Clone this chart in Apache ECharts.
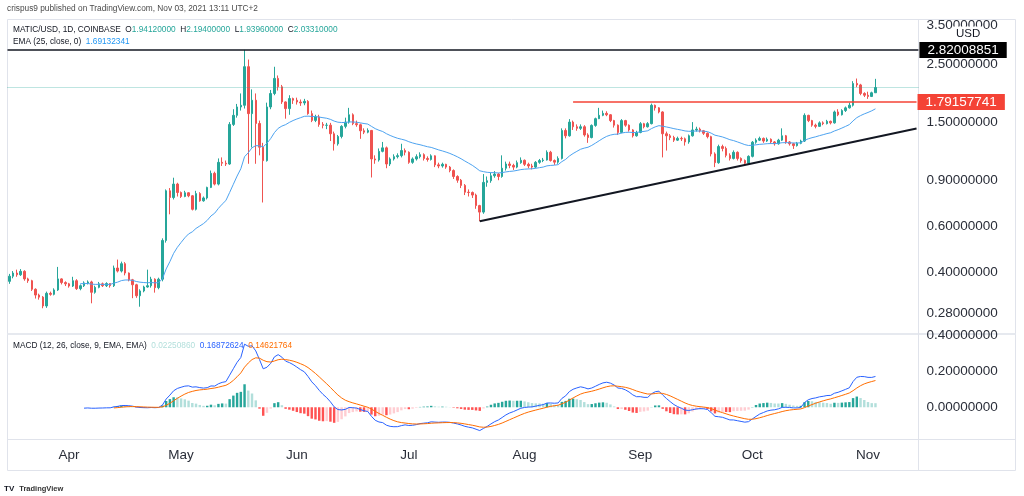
<!DOCTYPE html>
<html><head><meta charset="utf-8">
<script src="https://cdn.jsdelivr.net/npm/echarts@6/dist/echarts.min.js"></script>
<style>html,body{margin:0;padding:0;background:#fff}#c{width:1024px;height:496px}</style>
</head><body><div id="c"></div>
<script>
// ---------------- DATA ----------------
// daily bars from 2021-03-16 to 2021-11-03 (MATIC/USD, Coinbase)
const firstDay = '2021-03-16';
const slotCount = 244;            // daily slots on the time axis (incl. empty space on the right)
const warmupCloses = [0.36, 0.40, 0.39, 0.375, 0.37]; // bars just left of the visible window
const closes = [
 0.387,0.398,0.392,0.404,0.378,0.372,0.345,0.328,0.322,0.298,
 0.333,0.330,0.343,0.378,0.366,0.362,0.355,0.372,0.347,0.356,
 0.365,0.368,0.336,0.351,0.362,0.356,0.363,0.356,0.416,0.405,
 0.432,0.398,0.375,0.359,0.326,0.340,0.352,0.356,0.377,0.350,
 0.377,0.530,0.820,0.773,0.870,0.808,0.780,0.806,0.785,0.697,
 0.800,0.751,0.770,0.845,0.956,0.870,1.053,1.045,1.038,1.470,
 1.592,1.714,1.739,2.442,1.616,1.818,1.482,1.203,1.069,1.714,
 1.929,2.203,2.046,1.791,1.689,1.845,1.818,1.790,1.775,1.800,
 1.616,1.523,1.570,1.470,1.458,1.460,1.354,1.239,1.322,1.445,
 1.500,1.600,1.480,1.466,1.390,1.373,1.394,1.085,1.075,1.160,
 1.196,1.038,1.085,1.107,1.117,1.168,1.151,1.053,1.085,1.107,
 1.127,1.090,1.080,1.115,1.030,1.020,1.035,1.010,0.980,0.930,
 0.900,0.860,0.810,0.808,0.790,0.720,0.680,0.883,0.896,0.936,
 0.950,0.930,1.000,1.038,1.025,1.010,1.050,1.072,1.035,1.020,
 1.010,1.053,1.070,1.075,1.151,1.070,1.055,1.090,1.394,1.330,
 1.500,1.440,1.420,1.440,1.340,1.310,1.457,1.546,1.592,1.620,
 1.600,1.520,1.460,1.370,1.520,1.460,1.400,1.330,1.370,1.479,
 1.440,1.480,1.739,1.700,1.640,1.354,1.330,1.310,1.280,1.300,
 1.295,1.260,1.330,1.400,1.410,1.390,1.360,1.320,1.134,1.050,
 1.210,1.190,1.120,1.090,1.150,1.090,1.070,1.045,1.110,1.257,
 1.280,1.300,1.270,1.290,1.260,1.240,1.280,1.330,1.260,1.240,
 1.220,1.245,1.270,1.592,1.520,1.460,1.445,1.490,1.480,1.510,
 1.490,1.640,1.600,1.660,1.700,1.740,2.107,2.080,1.930,1.900,
 1.880,1.9412,2.0331];
const highs = [
 0.395,0.405,0.410,0.412,0.408,0.382,0.375,0.348,0.332,0.325,
 0.338,0.338,0.348,0.420,0.380,0.370,0.365,0.385,0.377,0.360,
 0.370,0.373,0.372,0.356,0.368,0.366,0.367,0.364,0.425,0.448,
 0.440,0.438,0.400,0.378,0.362,0.345,0.356,0.410,0.385,0.380,
 0.382,0.540,0.830,0.840,0.920,0.880,0.815,0.820,0.810,0.790,
 0.820,0.810,0.780,0.850,0.980,0.970,1.090,1.100,1.070,1.500,
 1.680,1.760,1.930,2.830,2.600,2.000,1.930,1.520,1.250,1.780,
 1.990,2.440,2.260,2.080,1.800,1.900,1.860,1.860,1.830,1.840,
 1.820,1.660,1.600,1.600,1.500,1.490,1.490,1.380,1.340,1.460,
 1.560,1.700,1.620,1.520,1.480,1.420,1.420,1.400,1.120,1.190,
 1.260,1.210,1.100,1.130,1.140,1.240,1.190,1.160,1.100,1.130,
 1.150,1.140,1.110,1.130,1.120,1.050,1.050,1.040,1.020,0.990,
 0.940,0.910,0.870,0.830,0.815,0.800,0.725,0.950,0.930,0.960,
 0.975,0.960,1.120,1.060,1.060,1.040,1.070,1.100,1.080,1.050,
 1.040,1.065,1.085,1.095,1.170,1.165,1.080,1.110,1.420,1.420,
 1.540,1.520,1.470,1.470,1.460,1.360,1.470,1.560,1.700,1.660,
 1.650,1.610,1.530,1.470,1.540,1.530,1.470,1.410,1.390,1.500,
 1.490,1.500,1.765,1.750,1.710,1.650,1.380,1.350,1.330,1.320,
 1.320,1.310,1.345,1.500,1.440,1.430,1.400,1.370,1.330,1.150,
 1.230,1.230,1.210,1.140,1.170,1.160,1.100,1.080,1.120,1.270,
 1.300,1.320,1.310,1.310,1.300,1.270,1.295,1.420,1.340,1.270,
 1.250,1.260,1.285,1.620,1.600,1.530,1.480,1.510,1.510,1.530,
 1.520,1.660,1.680,1.680,1.720,1.780,2.150,2.200,2.100,1.950,
 1.960,1.960,2.194];
const lows = [
 0.362,0.380,0.385,0.388,0.372,0.365,0.340,0.318,0.315,0.292,
 0.293,0.326,0.327,0.340,0.360,0.355,0.350,0.352,0.343,0.342,
 0.352,0.360,0.305,0.332,0.348,0.352,0.352,0.350,0.352,0.400,
 0.400,0.390,0.370,0.319,0.320,0.296,0.336,0.350,0.350,0.335,
 0.345,0.370,0.520,0.667,0.760,0.780,0.770,0.775,0.775,0.690,
 0.690,0.745,0.745,0.760,0.840,0.860,0.860,1.020,1.020,1.030,
 1.450,1.560,1.660,1.690,1.040,1.200,1.040,1.120,0.740,1.060,
 1.680,1.900,1.980,1.760,1.546,1.600,1.760,1.750,1.730,1.740,
 1.600,1.500,1.500,1.440,1.420,1.410,1.270,1.168,1.220,1.300,
 1.420,1.480,1.460,1.440,1.295,1.350,1.360,0.922,1.040,1.060,
 1.150,1.000,1.020,1.070,1.090,1.100,1.120,1.040,1.040,1.070,
 1.090,1.070,1.060,1.070,1.010,1.000,1.005,0.995,0.965,0.910,
 0.880,0.840,0.790,0.780,0.770,0.700,0.628,0.670,0.850,0.880,
 0.920,0.900,0.920,0.980,1.000,0.985,1.000,1.040,1.020,1.000,
 0.990,1.000,1.040,1.055,1.070,1.060,1.030,1.040,1.080,1.300,
 1.320,1.400,1.390,1.400,1.320,1.250,1.300,1.440,1.540,1.580,
 1.580,1.500,1.430,1.340,1.360,1.440,1.380,1.310,1.320,1.360,
 1.420,1.430,1.470,1.660,1.620,1.100,1.168,1.280,1.260,1.270,
 1.270,1.220,1.240,1.320,1.380,1.370,1.340,1.300,1.110,1.010,
 1.040,1.160,1.100,1.070,1.080,1.070,1.050,1.020,1.030,1.100,
 1.240,1.270,1.250,1.260,1.240,1.220,1.230,1.270,1.240,1.220,
 1.185,1.210,1.235,1.260,1.500,1.440,1.420,1.440,1.460,1.470,
 1.470,1.480,1.580,1.590,1.640,1.690,1.720,2.040,1.900,1.870,
 1.840,1.870,1.9396];

const priceTicks = [0.28, 0.4, 0.6, 0.9, 1.5, 2.5, 3.5];
const priceAxisRange = [0.2339, 3.697];
const macdTicks = [0, 0.2, 0.4];
const macdAxisRange = [-0.179, 0.404];
const monthNames = ['Jan','Feb','Mar','Apr','May','Jun','Jul','Aug','Sep','Oct','Nov','Dec'];

const resistanceLevel = 2.82008851;
const breakoutLevel = 1.79157741;
const breakoutStartIdx = 151;
const trendStart = { idx: 126, price: 0.628 };
const trendEnd = { idx: 243, price: 1.418 };

const emaLen = 25;
const macdParams = [12, 26, 9];
const legendValues = { ema: '1.69132341', hist: '0.02250860', macd: '0.16872624', signal: '0.14621764' };

// ---------------- BUILD ----------------
const LN = Math.log;
const FONT = 'Liberation Sans';
const UP = '#26a69a', DOWN = '#ef5350';

const categories = [];
const t0 = Date.parse(firstDay + 'T00:00:00Z');
for (let i = 0; i < slotCount; i++) categories.push(new Date(t0 + i * 86400000).toISOString().slice(0, 10));

const W = warmupCloses.length;
const full = warmupCloses.concat(closes);
const opens = closes.map((c, i) => full[W + i - 1]);

function ema(src, len) {
  const out = new Array(src.length).fill(null);
  const s = src.findIndex(v => v != null);
  if (s < 0 || s + len > src.length) return out;
  let sum = 0;
  for (let k = s; k < s + len; k++) sum += src[k];
  let prev = sum / len; out[s + len - 1] = prev;
  const a = 2 / (len + 1);
  for (let k = s + len; k < src.length; k++) { prev = a * src[k] + (1 - a) * prev; out[k] = prev; }
  return out;
}

const candleData = closes.map((c, i) => {
  const o = opens[i];
  const h = Math.max(highs[i], o, c), l = Math.min(lows[i], o, c);
  return [LN(o), LN(c), LN(l), LN(h)];
});

const emaFull = ema(full, emaLen);
const emaData = emaFull.slice(W).map(v => v == null ? '-' : LN(v));

const fast = ema(full, macdParams[0]);
const slow = ema(full, macdParams[1]);
const macd = full.map((_, k) => (fast[k] != null && slow[k] != null) ? fast[k] - slow[k] : null);
const signal = ema(macd, macdParams[2]);
const hist = macd.map((m, k) => (m != null && signal[k] != null) ? m - signal[k] : null);

const macdData = macd.slice(W).map(v => v == null ? '-' : v);
const signalData = signal.slice(W).map(v => v == null ? '-' : v);
const histData = hist.slice(W).map((h, i) => {
  if (h == null) return '-';
  const p = hist[W + i - 1];
  const rising = p != null && p < h;
  const color = h >= 0 ? (rising ? '#26a69a' : '#b2dfdb') : (rising ? '#ffcdd2' : '#ff5252');
  return { value: h, itemStyle: { color } };
});

const n = closes.length;
const fmt8 = v => Number(v).toFixed(8);

function badge(bg, level) {
  return {
    show: true, position: 'end', distance: 1,
    formatter: () => fmt8(level),
    color: '#fff', backgroundColor: bg, padding: [1, 8, 1, 8],
    fontSize: 13.5, lineHeight: 14, fontFamily: FONT
  };
}

const axisLabelStyle = { color: '#2a2e39', fontSize: 13.5, fontFamily: FONT };
const smallText = { fontSize: 8.3, fontFamily: FONT, color: '#131722', fontWeight: 'normal' };

const option = {
  animation: false,
  backgroundColor: '#ffffff',
  textStyle: { fontFamily: FONT },
  title: [
    { text: 'crispus9 published on TradingView.com, Nov 03, 2021 13:11 UTC+2', left: 7, top: 5, padding: 0,
      textStyle: Object.assign({}, smallText, { color: '#4a4a4a' }) },
    { text: 'MATIC/USD, 1D, COINBASE  O{v|' + fmt8(opens[n-1]) + '}  H{v|' + fmt8(highs[n-1]) + '}  L{v|' + fmt8(lows[n-1]) + '}  C{v|' + fmt8(closes[n-1]) + '}',
      left: 13, top: 26, padding: 0,
      textStyle: Object.assign({}, smallText, { rich: { v: { color: UP, fontSize: 8.3, fontFamily: FONT } } }) },
    { text: 'EMA (25, close, 0)  {b|' + legendValues.ema + '}', left: 13, top: 38, padding: 0,
      textStyle: Object.assign({}, smallText, { rich: { b: { color: '#2196f3', fontSize: 8.3, fontFamily: FONT } } }) },
    { text: 'MACD (12, 26, close, 9, EMA, EMA)  {h|' + legendValues.hist + '}  {m|' + legendValues.macd + '}  {s|' + legendValues.signal + '}',
      left: 13, top: 341.5, padding: 0,
      textStyle: Object.assign({}, smallText, { rich: {
        h: { color: '#b2dfdb', fontSize: 8.3, fontFamily: FONT },
        m: { color: '#2962ff', fontSize: 8.3, fontFamily: FONT },
        s: { color: '#ff6d00', fontSize: 8.3, fontFamily: FONT } } }) },
    { text: 'USD', left: 953, top: 26.5, padding: [1, 3, 1, 3], backgroundColor: '#fff',
      textStyle: { fontSize: 11.5, fontFamily: FONT, color: '#131722', fontWeight: 'normal' } },
    { text: '{i|TV} {t|TradingView}', left: 4, top: 479.5, padding: 0,
      textStyle: { rich: { i: { fontSize: 8, fontWeight: 'bold', color: '#131722', fontFamily: FONT },
                           t: { fontSize: 7.5, color: '#333', fontFamily: FONT } } } }
  ],
  graphic: [
    { type: 'rect', silent: true, z: 0, shape: { x: 7.5, y: 19.5, width: 1008, height: 451 }, style: { fill: 'transparent', stroke: '#e0e3eb', lineWidth: 1 } },
    { type: 'line', silent: true, z: 0, shape: { x1: 7.5, y1: 334, x2: 1015.5, y2: 334 }, style: { stroke: '#e6e9ef', lineWidth: 2 } },
    { type: 'line', silent: true, z: 0, shape: { x1: 7.5, y1: 439.5, x2: 1015.5, y2: 439.5 }, style: { stroke: '#e0e3eb', lineWidth: 1 } },
    { type: 'line', silent: true, z: 0, shape: { x1: 918.5, y1: 19.5, x2: 918.5, y2: 470.5 }, style: { stroke: '#e0e3eb', lineWidth: 1 } }
  ],
  grid: [
    { left: 7.5, top: 19.5, width: 910.9, height: 314 },
    { left: 7.5, top: 334.5, width: 910.9, height: 105 }
  ],
  xAxis: [
    { type: 'category', gridIndex: 0, data: categories, boundaryGap: true, show: false },
    { type: 'category', gridIndex: 1, data: categories, boundaryGap: true,
      axisLine: { show: false }, axisTick: { show: false }, splitLine: { show: false },
      axisLabel: Object.assign({}, axisLabelStyle, {
        interval: (idx, val) => val.slice(8, 10) === '01',
        formatter: val => monthNames[parseInt(val.slice(5, 7), 10) - 1],
        margin: 9
      }) }
  ],
  yAxis: [
    { type: 'value', gridIndex: 0, position: 'right', min: LN(priceAxisRange[0]), max: LN(priceAxisRange[1]),
      splitLine: { show: false }, axisLine: { show: false }, axisTick: { show: false },
      axisLabel: Object.assign({}, axisLabelStyle, { margin: 8, customValues: priceTicks.map(LN), formatter: v => fmt8(Math.exp(v)) }) },
    { type: 'value', gridIndex: 1, position: 'right', min: macdAxisRange[0], max: macdAxisRange[1],
      splitLine: { show: false }, axisLine: { show: false }, axisTick: { show: false },
      axisLabel: Object.assign({}, axisLabelStyle, { margin: 8, customValues: macdTicks, formatter: v => fmt8(v) }) }
  ],
  series: [
    { type: 'candlestick', xAxisIndex: 0, yAxisIndex: 0, data: candleData, barWidth: 2,
      itemStyle: { color: UP, color0: DOWN, borderColor: UP, borderColor0: DOWN, borderWidth: 1 },
      markLine: {
        symbol: ['none', 'none'], silent: true, animation: false,
        data: [
          { yAxis: LN(closes[n-1]), lineStyle: { type: 'dotted', color: 'rgba(38,166,154,0.6)', width: 1 }, label: { show: false } },
          { yAxis: LN(resistanceLevel), lineStyle: { type: 'solid', color: '#131722', width: 1.5 }, label: badge('#000000', resistanceLevel) },
          [ { coord: [breakoutStartIdx, LN(breakoutLevel)], lineStyle: { type: 'solid', color: '#f44336', width: 1.5 }, label: badge('#f44336', breakoutLevel) },
            { coord: [slotCount - 1, LN(breakoutLevel)] } ],
          [ { coord: [trendStart.idx, LN(trendStart.price)], lineStyle: { type: 'solid', color: '#131722', width: 2 }, label: { show: false } },
            { coord: [trendEnd.idx, LN(trendEnd.price)] } ]
        ]
      } },
    { type: 'line', xAxisIndex: 0, yAxisIndex: 0, data: emaData, showSymbol: false, symbol: 'none',
      lineStyle: { color: '#4da3f0', width: 1 }, z: 3 },
    { type: 'bar', xAxisIndex: 1, yAxisIndex: 1, data: histData, barWidth: '65%' },
    { type: 'line', xAxisIndex: 1, yAxisIndex: 1, data: macdData, showSymbol: false, symbol: 'none',
      lineStyle: { color: '#2962ff', width: 1 } },
    { type: 'line', xAxisIndex: 1, yAxisIndex: 1, data: signalData, showSymbol: false, symbol: 'none',
      lineStyle: { color: '#ff6d00', width: 1 } }
  ]
};

const chart = echarts.init(document.getElementById('c'), null, { renderer: 'canvas' });
chart.setOption(option);
</script></body></html>
